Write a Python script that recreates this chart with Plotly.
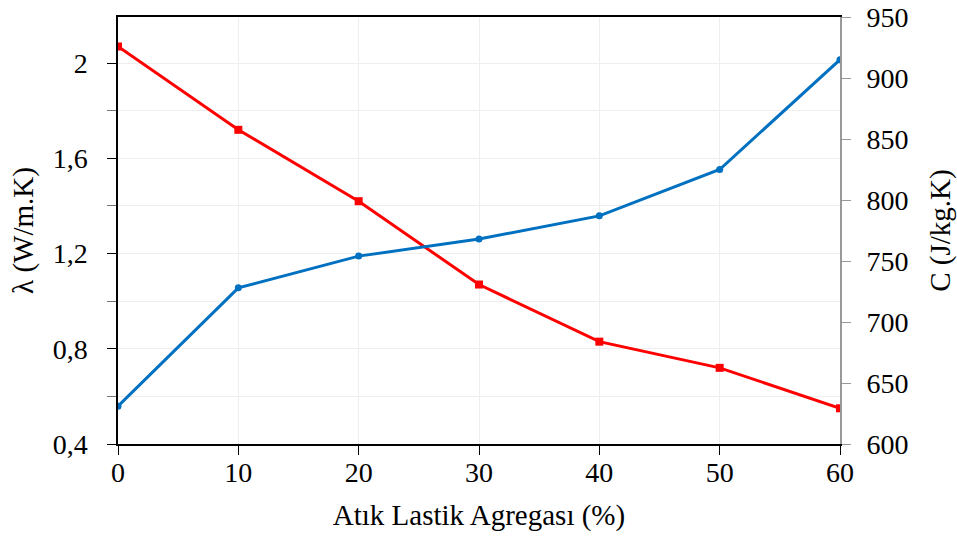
import plotly.graph_objects as go

# Waste rubber aggregate content (%)
rubber_pct = [0, 10, 20, 30, 40, 50, 60]
# Thermal conductivity λ (W/m.K)
conductivity = [2.07, 1.72, 1.42, 1.07, 0.83, 0.72, 0.55]
# Specific heat C (J/kg.K)
specific_heat = [631, 728, 754, 768, 787, 825, 915]

x_ticks = [0, 10, 20, 30, 40, 50, 60]
left_ticks = [0.4, 0.8, 1.2, 1.6, 2.0]
right_ticks = [600, 650, 700, 750, 800, 850, 900, 950]

FONT = "Liberation Serif, Times New Roman, serif"
GRID = "#eeeeee"
TICK_SIZE = 28
TITLE_SIZE = 29

fig = go.Figure()
fig.add_trace(go.Scatter(
    x=rubber_pct, y=conductivity, mode="lines+markers",
    line=dict(color="#ff0000", width=3),
    marker=dict(symbol="square", size=8, color="#ff0000"),
    yaxis="y", showlegend=False,
))
fig.add_trace(go.Scatter(
    x=rubber_pct, y=specific_heat, mode="lines+markers",
    line=dict(color="#0070c0", width=3),
    marker=dict(symbol="circle", size=7, color="#0070c0"),
    yaxis="y2", showlegend=False,
))

fig.update_layout(
    width=957, height=542,
    margin=dict(l=118, r=117, t=17, b=98),
    paper_bgcolor="white", plot_bgcolor="white",
    separators=", ",
    font=dict(family=FONT, size=TICK_SIZE, color="black"),
    xaxis=dict(
        range=[0, 60], tickvals=x_ticks, showgrid=True, gridcolor=GRID,
        showline=True, linecolor="black", linewidth=1.5, mirror=True,
        ticks="outside", ticklen=9, tickcolor="black",
        ticklabelstandoff=-6, tickfont=dict(size=TICK_SIZE),
        zeroline=False, automargin=False,
        title=dict(text="Atık Lastik Agregası (%)", font=dict(size=TITLE_SIZE), standoff=17),
    ),
    yaxis=dict(
        range=[0.4, 2.194], tickvals=left_ticks, showgrid=True, gridcolor=GRID,
        showline=True, linecolor="black", linewidth=1.5,
        ticks="outside", ticklen=9, tickcolor="black",
        ticklabelstandoff=14, tickfont=dict(size=TICK_SIZE),
        minor=dict(dtick=0.2, tick0=0.4, ticks="outside", ticklen=9,
                   tickcolor="#777777", showgrid=True, gridcolor=GRID),
        zeroline=False, automargin=False,
        title=dict(text="λ (W/m.K)", font=dict(size=TITLE_SIZE), standoff=11),
    ),
    yaxis2=dict(
        range=[600, 950], tickvals=right_ticks, overlaying="y", side="right",
        showgrid=False, showline=True, linecolor="#999999", linewidth=2,
        ticks="outside", ticklen=9, tickcolor="#999999",
        ticklabelstandoff=10, tickfont=dict(size=TICK_SIZE),
        zeroline=False, automargin=False,
        title=dict(text="C (J/kg.K)", font=dict(size=TITLE_SIZE), standoff=25),
    ),
)

fig.write_html("out.html")
